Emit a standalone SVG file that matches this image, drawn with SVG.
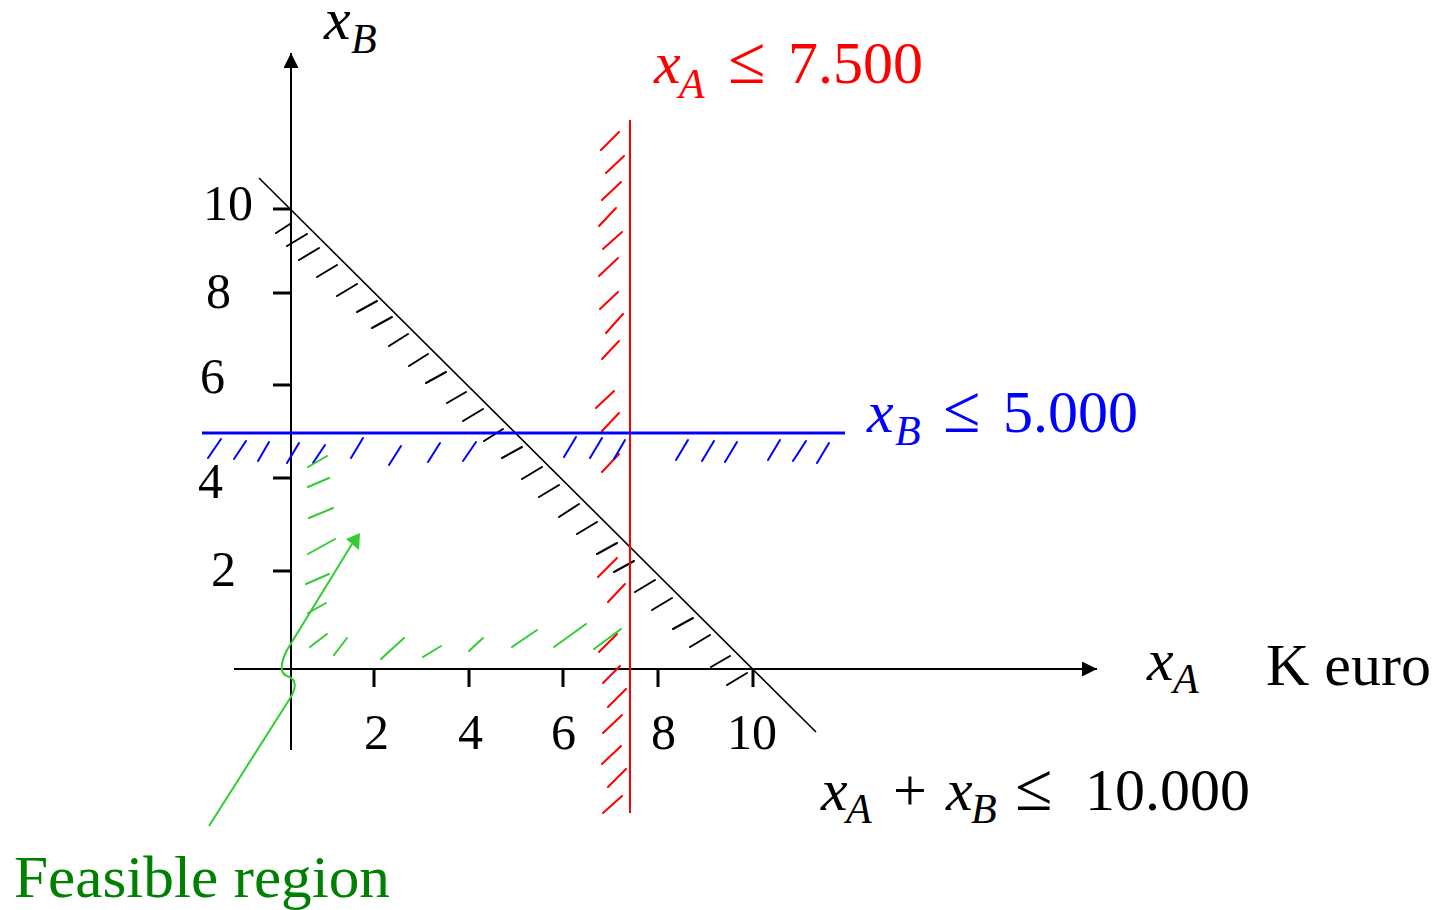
<svg xmlns="http://www.w3.org/2000/svg" width="1443" height="910" viewBox="0 0 1443 910">
<style>
.t{font-family:"Liberation Serif","Times New Roman",serif;font-size:60px}
.le{font-family:"Liberation Serif","Times New Roman",serif;font-size:68px}
.n{font-family:"Liberation Serif","Times New Roman",serif;font-size:50px;fill:#000}
.i{font-style:italic}
.s{font-family:"Liberation Serif","Times New Roman",serif;font-size:42px;font-style:italic}
.ax{stroke:#000;stroke-width:2;fill:none}
.tk{stroke:#000;stroke-width:3;fill:none}
.h{stroke-width:2;fill:none;stroke-linecap:round}
</style>
<defs>
<marker id="ah" markerUnits="userSpaceOnUse" markerWidth="16" markerHeight="16" refX="15" refY="7.5" orient="auto">
<path d="M0,0 L15,7.5 L0,15 Z" fill="#000"/>
</marker>
</defs>
<g id="axes">
<line class="ax" x1="234" y1="669" x2="1097" y2="669" marker-end="url(#ah)"/>
<line class="ax" x1="291" y1="750" x2="291" y2="53" marker-end="url(#ah)"/>
<path class="tk" d="M273,209H291M273,293H291M273,385H291M273,478H291M273,571H291M374,669V687M469,669V687M563,669V687M658,669V687M753,669V687"/>
<text class="n" x="203" y="220">10</text>
<text class="n" x="206" y="308">8</text>
<text class="n" x="200" y="393">6</text>
<text class="n" x="198" y="498">4</text>
<text class="n" x="211" y="586">2</text>
<text class="n" x="364" y="749">2</text>
<text class="n" x="458" y="749">4</text>
<text class="n" x="551" y="749">6</text>
<text class="n" x="651" y="749">8</text>
<text class="n" x="727" y="749">10</text>
<text class="t i" x="324" y="39">x</text><text class="s" x="351" y="53">B</text>
<text class="t i" x="1147" y="680">x</text><text class="s" x="1173" y="693">A</text>
<text class="t" x="1266" y="685">K euro</text>
</g>
<g id="constraint-sum">
<line x1="259" y1="178" x2="816" y2="732" stroke="#000" stroke-width="1.6"/>
<path class="h" stroke="#000" d="M276,233L290,224M287,246L307,234M299,260L319,248M317,277L337,265M337,296L357,284M357,312L377,301M372,328L392,317M389,346L408,334M409,366L428,354M426,383L446,372M447,403L466,392M463,421L483,409M484,441L503,429M502,458L522,447M522,479L542,467M539,497L559,485M559,517L579,504M577,534L597,522M597,554L617,543M614,572L634,561M635,592L655,580M652,610L672,598M673,629L693,618M690,647L710,635M711,667L730,656M727,685L747,673"/>
<text class="t i" x="821" y="810">x</text><text class="s" x="846" y="823">A</text>
<text class="t" x="893" y="810">+</text>
<text class="t i" x="946" y="810">x</text><text class="s" x="971" y="823">B</text>
<text class="le" x="1015" y="810">≤</text>
<text class="t" x="1085" y="810">10.000</text>
</g>
<g id="constraint-a">
<line x1="630" y1="120" x2="630" y2="813" stroke="#f00" stroke-width="2"/>
<path class="h" stroke="#f00" d="M601,150L619,132M606,173L624,156M602,200L621,182M599,226L616,208M603,249L622,232M599,276L618,258M600,309L618,292M606,333L623,314M602,359L619,341M596,408L614,391M602,431L619,413M602,472L619,454M598,577L617,558M608,602L625,584M599,652L617,634M603,683L620,666M608,707L626,689M603,733L622,715M602,764L621,746M608,787L626,769M603,813L622,796"/>
<text class="t i" fill="#f00" x="654" y="83">x</text><text class="s" fill="#f00" x="679" y="98">A</text>
<text class="le" fill="#f00" x="728" y="83">≤</text>
<text class="t" fill="#f00" x="788" y="83">7.500</text>
</g>
<g id="constraint-b">
<line x1="202" y1="433" x2="845" y2="433" stroke="#00f" stroke-width="3"/>
<path class="h" stroke="#00f" d="M208,458L221,439M234,459L246,441M258,461L269,442M287,463L299,443M313,463L325,445M351,458L363,438M389,465L401,446M428,462L440,443M463,461L476,442M564,457L576,437M590,458L602,438M614,459L625,440M676,460L688,440M702,461L714,441M725,462L737,442M768,460L780,440M793,461L806,441M817,463L829,443"/>
<text class="t i" fill="#00f" x="867" y="432">x</text><text class="s" fill="#00f" x="895" y="445">B</text>
<text class="le" fill="#00f" x="943" y="432">≤</text>
<text class="t" fill="#00f" x="1003" y="432">5.000</text>
</g>
<g id="feasible-region">
<path class="h" stroke="#33cc33" d="M308,467L327,456M308,487L329,478M309,518L333,508M308,554L335,539M306,584L329,574M308,613L326,603M310,647L327,634M334,655L347,638M381,659L404,638M423,657L441,646M469,651L483,638M512,647L537,630M554,647L586,624M594,649L621,629"/>
<text class="t" fill="#008000" x="14" y="897" textLength="376" lengthAdjust="spacingAndGlyphs">Feasible region</text>
</g>
<g id="connectors">
<path d="M209,826 L289,700 C297,688 297,679 287,676 C279,673 281,662 287,650 L352,544" stroke="#33cc33" stroke-width="2" fill="none"/>
<polygon points="360,533 346,539 359,550" fill="#33cc33"/>
</g>
</svg>
